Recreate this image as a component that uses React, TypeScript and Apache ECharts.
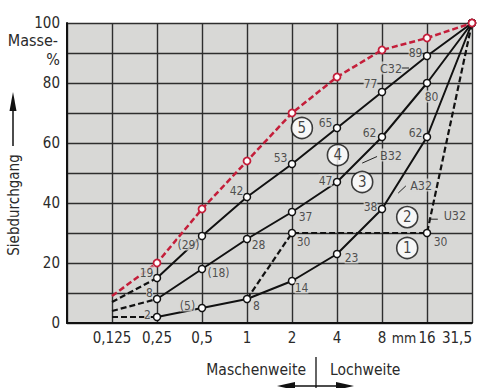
import React, { useEffect, useRef } from "react";
import * as echarts from "echarts";

// x positions: 0 = left edge, 1..9 = sieve sizes
const xLabels = ["", "0,125", "0,25", "0,5", "1", "2", "4", "8", "16", "31,5"];
const yTicks = [0, 20, 40, 60, 80, 100];

// values at sieves 0,25 .. 31,5 (x = 2..9)
const curveC32 = [15, 29, 42, 53, 65, 77, 89, 100];
const curveB32 = [8, 18, 28, 37, 47, 62, 80, 100];
const curveA32 = [2, 5, 8, 14, 23, 38, 62, 100];
// U32 from sieve 1 (x = 4) to 31,5
const curveU32 = [8, 30, 30, 30, 30, 100];
const u32Markers = [false, true, false, false, true, false];
// red dashed curve from 0,125 (x = 1) to 31,5
const curveRed = [9, 20, 38, 54, 70, 82, 91, 95, 100];
// dashed extensions 0,125 -> 0,25
const extC = [7, 15];
const extB = [4, 8];
const extA = [2, 2];

// point labels: [x, y, text]
const pointLabels: [number, number, string][] = [
  [2, 15, "19"], [2, 8, "8"], [2, 2, "2"],
  [3, 29, "(29)"], [3, 18, "(18)"], [3, 5, "(5)"],
  [4, 42, "42"], [4, 28, "28"], [4, 8, "8"],
  [5, 53, "53"], [5, 37, "37"], [5, 30, "30"], [5, 14, "14"],
  [6, 65, "65"], [6, 47, "47"], [6, 23, "23"],
  [7, 77, "77"], [7, 62, "62"], [7, 38, "38"],
  [8, 89, "89"], [8, 80, "80"], [8, 62, "62"], [8, 30, "30"],
];
const labelOffsets: [number, number][] = [
  [-10, -5], [-7, -6], [-9, -2],
  [-13, 9], [17, 4], [-14, -2],
  [-10, -6], [12, 6], [10, 7],
  [-11, -6], [14, 5], [12, 9], [10, 7],
  [-11, -5], [-11, -1], [15, 4],
  [-11, -8], [-12, -4], [-11, -2],
  [-11, -3], [5, 14], [-11, -4], [14, 9],
];

// zone markers
const zones: [number, number, string][] = [
  [7.56, 25, "1"], [7.56, 35.3, "2"], [6.56, 47, "3"], [6.02, 56, "4"], [5.22, 65, "5"],
];

// curve name labels and leader lines
const curveNames: [number, number, string][] = [
  [7.2, 85, "C32"], [7.2, 56, "B32"], [7.87, 46, "A32"], [8.62, 35.7, "U32"],
];
const leaders: [number, number][][] = [
  [[7.42, 85], [7.6, 85]],
  [[6.89, 55.5], [6.56, 53.3]],
  [[7.53, 45.7], [7.36, 43.3]],
  [[8.04, 34.6], [8.24, 34.6]],
];

const FONT = "'DejaVu Sans Condensed', 'Liberation Sans Narrow', 'DejaVu Sans', sans-serif";
const TXT = "#2a2a2a";
const BG = "#d8d8d6";
const RED = "#c41e3a";

export default function App() {
  const ref = useRef<HTMLDivElement>(null);
  useEffect(() => {
    if (!ref.current) return;
    const chart = echarts.init(ref.current, undefined, { renderer: "svg" });
    const symStyle = { color: "#fff", borderColor: "#111", borderWidth: 1.5 };
    const solid = (vals: number[], name: string) => ({
      type: "line",
      name,
      data: vals.map((v, i) => [i + 2, v]),
      symbol: "circle",
      symbolSize: 7,
      lineStyle: { color: "#111", width: 2 },
      itemStyle: symStyle,
      z: 3,
    });
    const ext = (vals: number[]) => ({
      type: "line",
      data: vals.map((v, i) => [i + 1, v]),
      symbol: "none",
      lineStyle: { color: "#111", width: 2.2, type: [6, 3] },
      z: 2,
    });
    const series: any[] = [
      ext(extC), ext(extB), ext(extA),
      {
        type: "line",
        data: curveU32.map((v, i) => ({
          value: [i + 4, v],
          symbol: u32Markers[i] ? "circle" : "none",
        })),
        symbolSize: 7,
        lineStyle: { color: "#111", width: 2.2, type: [6, 3] },
        itemStyle: symStyle,
        z: 2,
      },
      solid(curveA32, "A32"),
      solid(curveB32, "B32"),
      solid(curveC32, "C32"),
      {
        type: "line",
        data: curveRed.map((v, i) => ({
          value: [i + 1, v],
          symbol: i === 0 ? "none" : "circle",
        })),
        symbolSize: 7,
        lineStyle: { color: RED, width: 2.5, type: [6, 3] },
        itemStyle: { color: "#fff", borderColor: RED, borderWidth: 1.8 },
        z: 4,
      },
      ...leaders.map((seg) => ({
        type: "line",
        data: seg,
        symbol: "none",
        lineStyle: { color: "#222", width: 1 },
        z: 3,
      })),
      {
        type: "scatter",
        data: pointLabels.map((p, i) => ({
          value: [p[0], p[1]],
          label: {
            show: true,
            formatter: p[2],
            position: labelOffsets[i],
            align: "center",
            verticalAlign: "middle",
          },
        })),
        symbolSize: 1,
        itemStyle: { color: "transparent" },
        label: { fontFamily: FONT, fontSize: 12, color: TXT, backgroundColor: BG },
        silent: true,
        z: 5,
      },
      {
        type: "scatter",
        data: curveNames.map((p) => ({ value: [p[0], p[1]], name: p[2] })),
        symbolSize: 1,
        itemStyle: { color: "transparent" },
        label: {
          show: true,
          formatter: "{b}",
          position: "inside",
          fontFamily: FONT,
          fontSize: 12.5,
          color: TXT,
          backgroundColor: BG,
        },
        silent: true,
        z: 5,
      },
      {
        type: "scatter",
        data: zones.map((p) => ({ value: [p[0], p[1]], name: p[2] })),
        symbol: "circle",
        symbolSize: 21,
        itemStyle: { color: "#fff", borderColor: "#111", borderWidth: 1.6 },
        label: {
          show: true,
          formatter: "{b}",
          position: "inside",
          fontFamily: FONT,
          fontSize: 15,
          color: "#111",
        },
        silent: true,
        z: 6,
      },
    ];

    chart.setOption({
      animation: false,
      backgroundColor: "#fff",
      grid: {
        left: 67, top: 23, width: 405, height: 300,
        show: true, backgroundColor: BG, borderWidth: 0,
      },
      xAxis: {
        type: "value", min: 0, max: 9, interval: 1,
        axisLine: { show: true, onZero: false, lineStyle: { color: "#111", width: 2 } },
        axisTick: { show: false },
        splitLine: { show: true, showMinLine: true, showMaxLine: true, lineStyle: { color: "#2e2e2e", width: 1.4 } },
        axisLabel: {
          formatter: (v: number) => xLabels[v] ?? "",
          fontFamily: FONT, fontSize: 15, color: TXT, margin: 7,
          alignMaxLabel: "right",
        },
      },
      yAxis: {
        type: "value", min: 0, max: 100, interval: 10,
        axisLine: { show: true, lineStyle: { color: "#111", width: 2 } },
        axisTick: { show: false },
        splitLine: { show: true, showMinLine: true, showMaxLine: true, lineStyle: { color: "#2e2e2e", width: 1.4 } },
        axisLabel: {
          formatter: (v: number) => (yTicks.includes(v) ? String(v) : ""),
          fontFamily: FONT, fontSize: 15, color: TXT, margin: 7,
        },
      },
      graphic: [
        { type: "text", x: 58, y: 40, style: { text: "Masse-", font: `16px ${FONT}`, fill: TXT, align: "right", verticalAlign: "middle" } },
        { type: "text", x: 53, y: 59, style: { text: "%", font: `16px ${FONT}`, fill: TXT, align: "center", verticalAlign: "middle" } },
        { type: "text", x: 404, y: 338, style: { text: "mm", font: `14px ${FONT}`, fill: TXT, align: "center", verticalAlign: "middle" } },
        { type: "text", x: 14, y: 205, rotation: Math.PI / 2, style: { text: "Siebdurchgang", font: `15px ${FONT}`, fill: TXT, align: "center", verticalAlign: "middle" } },
        { type: "line", shape: { x1: 13, y1: 146, x2: 13, y2: 106 }, style: { stroke: "#111", lineWidth: 1.5 } },
        { type: "polygon", shape: { points: [[13, 92], [9.5, 111], [16.5, 111]] }, style: { fill: "#111" } },
        { type: "text", x: 306, y: 370, style: { text: "Maschenweite", font: `15.5px ${FONT}`, fill: TXT, align: "right", verticalAlign: "middle" } },
        { type: "text", x: 330, y: 370, style: { text: "Lochweite", font: `15.5px ${FONT}`, fill: TXT, align: "left", verticalAlign: "middle" } },
        { type: "line", shape: { x1: 316, y1: 357, x2: 316, y2: 388 }, style: { stroke: "#111", lineWidth: 1.3 } },
        { type: "line", shape: { x1: 285, y1: 386, x2: 346, y2: 386 }, style: { stroke: "#111", lineWidth: 1.5 } },
        { type: "polygon", shape: { points: [[277, 386], [295, 382], [295, 390]] }, style: { fill: "#111" } },
        { type: "polygon", shape: { points: [[354, 386], [336, 382], [336, 390]] }, style: { fill: "#111" } },
      ],
      series,
    });
    return () => chart.dispose();
  }, []);
  return <div ref={ref} style={{ position: "fixed", left: 0, top: 0, width: 483, height: 388 }} />;
}
